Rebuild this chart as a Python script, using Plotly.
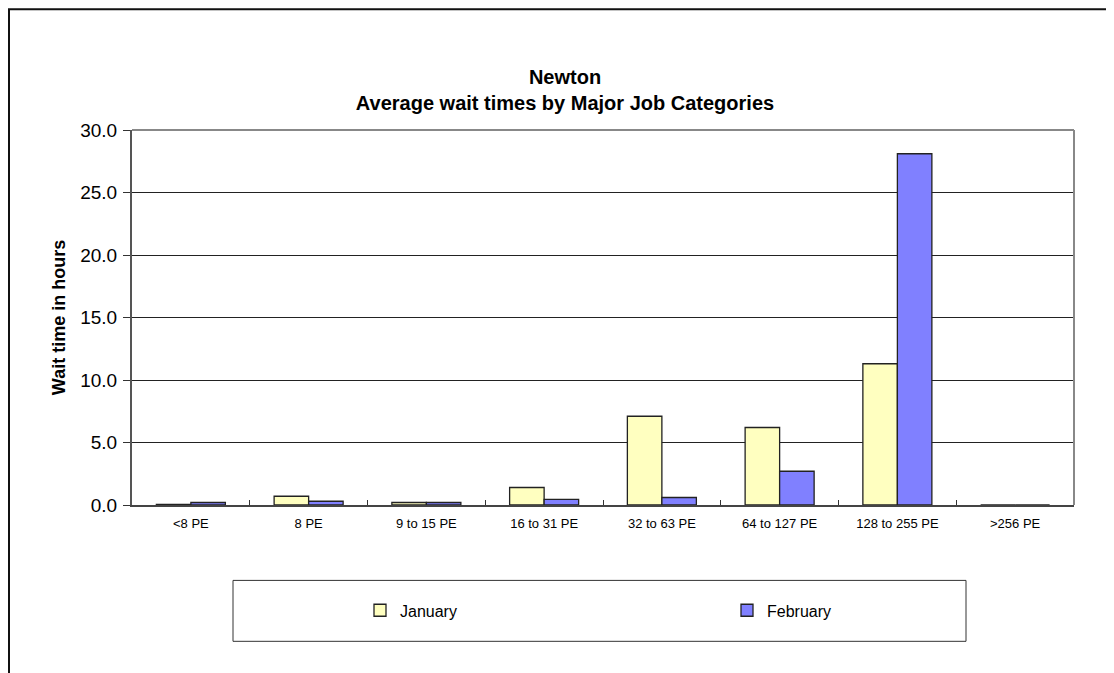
import plotly.graph_objects as go

categories = ["<8 PE", "8 PE", "9 to 15 PE", "16 to 31 PE", "32 to 63 PE",
              "64 to 127 PE", "128 to 255 PE", ">256 PE"]
january = [0.05, 0.7, 0.2, 1.4, 7.1, 6.2, 11.3, 0]
february = [0.2, 0.3, 0.2, 0.45, 0.6, 2.7, 28.1, 0]
y_ticks = [0, 5, 10, 15, 20, 25, 30]

OFF = 8  # page body margin
W, H = 1114 - OFF, 673 - OFF
L, R, T, B = 132, 1074, 130, 505.5  # target pixel positions in the page
pw, ph = R - L, B - T

def px(x):
    return (x - L) / pw

def py(y):
    return (B - y) / ph

FONT = "Liberation Sans, Arial, sans-serif"

fig = go.Figure()
fig.add_trace(go.Bar(name="January", x=categories, y=january,
                     marker=dict(color="#FFFFC0", line=dict(color="#222222", width=1.3))))
fig.add_trace(go.Bar(name="February", x=categories, y=february,
                     marker=dict(color="#8080FF", line=dict(color="#222222", width=1.3))))

fig.update_layout(
    width=W, height=H,
    margin=dict(l=L - OFF, r=(W + OFF) - R, t=T - OFF, b=(H + OFF) - B),
    paper_bgcolor="white", plot_bgcolor="white",
    font=dict(family=FONT, color="black"),
    barmode="group", bargap=0.414, bargroupgap=0,
    title=dict(text="<b>Newton</b><br><b>Average wait times by Major Job Categories</b>",
               x=(565 - OFF) / W, xanchor="center", xref="container",
               y=1 - (84 - OFF) / H, yanchor="middle", yref="container",
               font=dict(size=20, family=FONT)),
    showlegend=True,
    legend=dict(orientation="h", x=px(360), xanchor="left", y=py(611), yanchor="middle",
                entrywidth=322, entrywidthmode="pixels",
                font=dict(size=16, family=FONT), bgcolor="rgba(0,0,0,0)",
                traceorder="normal"),
    shapes=[
        dict(type="rect", xref="paper", yref="paper",
             x0=px(9), x1=px(1135), y0=py(700), y1=py(9),
             line=dict(color="#111111", width=2), fillcolor="rgba(0,0,0,0)", layer="below"),
        dict(type="rect", xref="paper", yref="paper",
             x0=px(233), x1=px(966), y0=py(642), y1=py(581),
             line=dict(color="#333333", width=1), fillcolor="rgba(0,0,0,0)"),
    ],
)

fig.update_xaxes(
    type="category", tickson="boundaries", ticks="inside", ticklen=5,
    tickcolor="#333333", showline=True, linecolor="#444444", linewidth=2,
    mirror=False, showgrid=False, tickfont=dict(size=13, family=FONT),
    ticklabelstandoff=5,
)
fig.update_yaxes(
    range=[0, 30], tickvals=y_ticks, tickformat=".1f",
    ticks="outside", ticklen=7, tickcolor="#333333",
    showline=True, linecolor="#555555", linewidth=2,
    showgrid=True, gridcolor="#222222", gridwidth=1,
    tickfont=dict(size=19, family=FONT), ticklabelstandoff=2,
    title=dict(text="<b>Wait time in hours</b>", font=dict(size=18, family=FONT), standoff=10),
    zeroline=False,
)
# plot area frame (top and right)
fig.add_shape(type="line", xref="paper", yref="paper", x0=0, x1=1, y0=1, y1=1,
              line=dict(color="#888888", width=2))
fig.add_shape(type="line", xref="paper", yref="paper", x0=1, x1=1, y0=0, y1=1,
              line=dict(color="#888888", width=2))

fig.write_html("out.html")
